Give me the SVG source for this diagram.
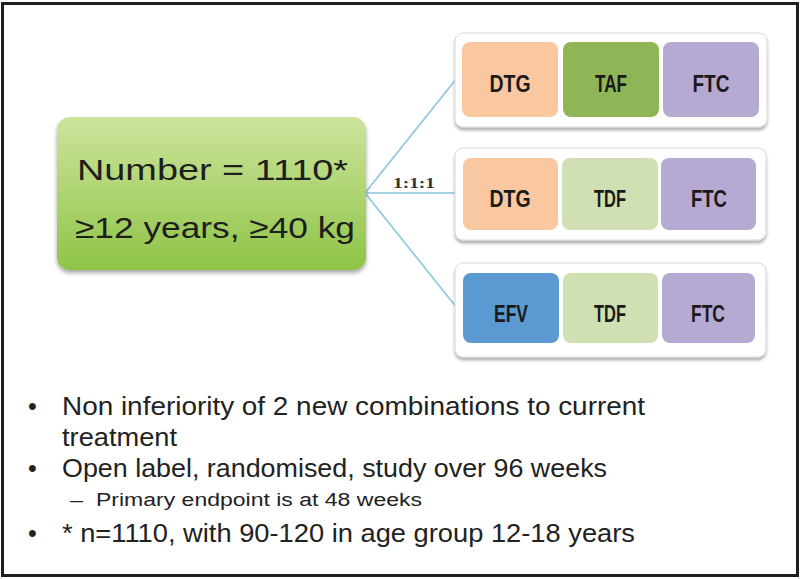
<svg xmlns="http://www.w3.org/2000/svg" width="800" height="579" viewBox="0 0 800 579">
<defs>
<linearGradient id="gGreen" x1="0" y1="0" x2="0" y2="1">
<stop offset="0" stop-color="#cde49c"/>
<stop offset="1" stop-color="#8fc447"/>
</linearGradient>
<filter id="shadow" x="-10%" y="-10%" width="120%" height="130%">
<feDropShadow dx="0" dy="3" stdDeviation="2" flood-color="#000" flood-opacity="0.35"/>
</filter>
<filter id="shadow2" x="-10%" y="-10%" width="120%" height="130%">
<feDropShadow dx="0" dy="3" stdDeviation="1.5" flood-color="#000" flood-opacity="0.3"/>
</filter>
</defs>
<style>
.frame{fill:#ffffff;stroke:#1e1e1e;stroke-width:3}
.group{fill:#ffffff;stroke:#d8d8d8;stroke-width:1}
.drug{font-family:"Liberation Sans",Arial,sans-serif;font-weight:bold;font-size:23px;fill:#1a1a1a;text-anchor:middle}
.main{font-family:"Liberation Sans",Arial,sans-serif;font-size:30px;fill:#1e1e1e}
.bul{font-family:"Liberation Sans",Arial,sans-serif;font-size:25px;fill:#222}
.sub{font-family:"Liberation Sans",Arial,sans-serif;font-size:18px;fill:#222}
.conn{stroke:#86c5e0;stroke-width:1.5;fill:none}
.dtg{fill:#f9c8a0}
.taf{fill:#90b556}
.tdf{fill:#d0e0b2}
.ftc{fill:#b6a9d2}
.efv{fill:#5b99d3}
</style>
<rect class="frame" x="2.5" y="3.5" width="795" height="572"/>

<g id="connectors">
<line class="conn" x1="365" y1="193" x2="457" y2="78"/>
<line class="conn" x1="365" y1="193" x2="457" y2="193"/>
<line class="conn" x1="365" y1="193" x2="457" y2="308"/>
<text x="393" y="188" textLength="42" lengthAdjust="spacingAndGlyphs" style="font-family:'Liberation Serif','Times New Roman',serif;font-weight:bold;font-size:15px;fill:#333">1:1:1</text>
</g>

<g id="population">
<rect x="57" y="117" width="309" height="153" rx="13" ry="13" fill="url(#gGreen)" filter="url(#shadow)"/>
<text class="main" x="77" y="180" textLength="271" lengthAdjust="spacingAndGlyphs">Number = 1110*</text>
<text class="main" x="75" y="238" textLength="280" lengthAdjust="spacingAndGlyphs">≥12 years, ≥40 kg</text>
</g>

<g id="arm1">
<rect class="group" x="455" y="33" width="312" height="94" rx="8" ry="8" filter="url(#shadow2)"/>
<rect class="dtg" x="462" y="42" width="96" height="75" rx="8" ry="8"/>
<rect class="taf" x="563" y="42" width="96" height="75" rx="8" ry="8"/>
<rect class="ftc" x="663" y="42" width="96" height="75" rx="8" ry="8"/>
<text class="drug" x="510" y="92" textLength="41" lengthAdjust="spacingAndGlyphs">DTG</text>
<text class="drug" x="611" y="92" textLength="32" lengthAdjust="spacingAndGlyphs">TAF</text>
<text class="drug" x="711" y="92" textLength="37" lengthAdjust="spacingAndGlyphs">FTC</text>
</g>

<g id="arm2">
<rect class="group" x="455" y="148" width="311" height="92" rx="8" ry="8" filter="url(#shadow2)"/>
<rect class="dtg" x="463" y="158" width="95" height="72" rx="8" ry="8"/>
<rect class="tdf" x="562" y="158" width="96" height="72" rx="8" ry="8"/>
<rect class="ftc" x="661" y="158" width="95" height="72" rx="8" ry="8"/>
<text class="drug" x="510" y="207" textLength="41" lengthAdjust="spacingAndGlyphs">DTG</text>
<text class="drug" x="610" y="207" textLength="32" lengthAdjust="spacingAndGlyphs">TDF</text>
<text class="drug" x="709" y="207" textLength="36" lengthAdjust="spacingAndGlyphs">FTC</text>
</g>

<g id="arm3">
<rect class="group" x="455" y="263" width="311" height="94" rx="8" ry="8" filter="url(#shadow2)"/>
<rect class="efv" x="463" y="273" width="96" height="70" rx="8" ry="8"/>
<rect class="tdf" x="563" y="273" width="95" height="70" rx="8" ry="8"/>
<rect class="ftc" x="662" y="273" width="93" height="70" rx="8" ry="8"/>
<text class="drug" x="511" y="322" textLength="34" lengthAdjust="spacingAndGlyphs">EFV</text>
<text class="drug" x="610" y="322" textLength="32" lengthAdjust="spacingAndGlyphs">TDF</text>
<text class="drug" x="708" y="322" textLength="34" lengthAdjust="spacingAndGlyphs">FTC</text>
</g>

<g id="notes">
<text class="bul" x="28" y="415">•</text>
<text class="bul" x="62" y="415" textLength="583" lengthAdjust="spacingAndGlyphs">Non inferiority of 2 new combinations to current</text>
<text class="bul" x="62" y="446" textLength="115" lengthAdjust="spacingAndGlyphs">treatment</text>
<text class="bul" x="28" y="477">•</text>
<text class="bul" x="62" y="477" textLength="545" lengthAdjust="spacingAndGlyphs">Open label, randomised, study over 96 weeks</text>
<text class="sub" x="70" y="506" textLength="13" lengthAdjust="spacingAndGlyphs">–</text>
<text class="sub" x="96" y="506" textLength="326" lengthAdjust="spacingAndGlyphs">Primary endpoint is at 48 weeks</text>
<text class="bul" x="28" y="542">•</text>
<text class="bul" x="62" y="542" textLength="573" lengthAdjust="spacingAndGlyphs">* n=1110, with 90-120 in age group 12-18 years</text>
</g>
</svg>
